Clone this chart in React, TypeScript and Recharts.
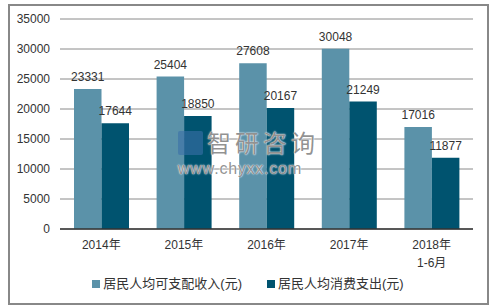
import React from 'react';
import { BarChart, Bar, XAxis, YAxis, CartesianGrid, Legend, LabelList } from 'recharts';

const categories = ['2014年', '2015年', '2016年', '2017年', '2018年\n1-6月'];
const income = [23331, 25404, 27608, 30048, 17016];
const expense = [17644, 18850, 20167, 21249, 11877];
const yTicks = [0, 5000, 10000, 15000, 20000, 25000, 30000, 35000];
const seriesNames = ['居民人均可支配收入(元)', '居民人均消费支出(元)'];

const LIGHT = '#5b92a9';
const DARK = '#00536f';
const FONT = '"Liberation Sans", Arial, "Noto Sans CJK SC", sans-serif';

const data = categories.map((c, i) => ({ name: c, income: income[i], expense: expense[i] }));

const XTick = (props: any) => {
  const { x, y, payload } = props;
  const lines = String(payload.value).split('\n');
  return (
    <text x={x} y={y} textAnchor="middle" fill="#333" fontSize={12} fontFamily={FONT}>
      {lines.map((l, i) => (
        <tspan key={i} x={x} dy={i === 0 ? '0.71em' : 18}>{l}</tspan>
      ))}
    </text>
  );
};

const LegendContent = () => (
  <div style={{ display: 'flex', justifyContent: 'center', fontFamily: FONT, fontSize: 13, color: '#333', lineHeight: '16px' }}>
    {[LIGHT, DARK].map((c, i) => (
      <div key={i} style={{ display: 'flex', alignItems: 'center', marginLeft: i === 0 ? 0 : 25 }}>
        <span style={{ display: 'inline-block', width: 8, height: 8, background: c, marginRight: 3 }} />
        <span>{seriesNames[i]}</span>
      </div>
    ))}
  </div>
);

export default function App() {
  return (
    <div style={{ position: 'absolute', left: 0, top: 0, width: 496, height: 308, background: '#fff' }}>
      <div style={{ position: 'absolute', left: 8, top: 4, width: 481, height: 301, border: '2px solid #888', boxSizing: 'border-box' }} />
      <div style={{ position: 'absolute', left: 0, top: 0 }}>
        <BarChart width={496} height={308} data={data} margin={{ top: 19, right: 23, left: 10, bottom: 15 }} barGap={0} barSize={27.5}>
          <CartesianGrid vertical={false} stroke="#8a8a8a" strokeWidth={1} />
          <XAxis dataKey="name" tick={<XTick />} tickLine={false} axisLine={{ stroke: '#333', strokeWidth: 1.5 }} tickSize={0} tickMargin={11} height={40} interval={0} />
          <YAxis domain={[0, 35000]} ticks={yTicks} width={50} axisLine={false} tickLine={false} tickSize={0} tickMargin={10}
            tick={{ fill: '#333', fontSize: 12, fontFamily: FONT }} />
          <Legend verticalAlign="bottom" height={24} content={<LegendContent />} wrapperStyle={{ top: 276, left: 0, width: 496 }} />
          <Bar dataKey="income" fill={LIGHT} isAnimationActive={false}>
            <LabelList dataKey="income" position="top" offset={8} fill="#333" fontSize={12} fontFamily={FONT} />
          </Bar>
          <Bar dataKey="expense" fill={DARK} isAnimationActive={false}>
            <LabelList dataKey="expense" position="top" offset={8} fill="#333" fontSize={12} fontFamily={FONT} />
          </Bar>
        </BarChart>
      </div>
      <div style={{ position: 'absolute', left: 178, top: 131, width: 25, height: 24, opacity: 0.6, background: '#3a6fa8', borderRadius: 2 }} />
      <div style={{ position: 'absolute', left: 207, top: 124, fontSize: 24, lineHeight: 'normal', color: 'rgba(110,110,110,0.75)', fontFamily: '"Noto Sans CJK SC", sans-serif', letterSpacing: 4, textShadow: '0 0 2px #fff, 0 0 1px #fff' }}>智研咨询</div>
      <div style={{ position: 'absolute', left: 178, top: 160, fontSize: 16, lineHeight: 'normal', color: 'rgba(110,110,110,0.75)', fontFamily: FONT, letterSpacing: 0.8, textShadow: '0 0 2px #fff, 0 0 1px #fff' }}>www.chyxx.com</div>
    </div>
  );
}
